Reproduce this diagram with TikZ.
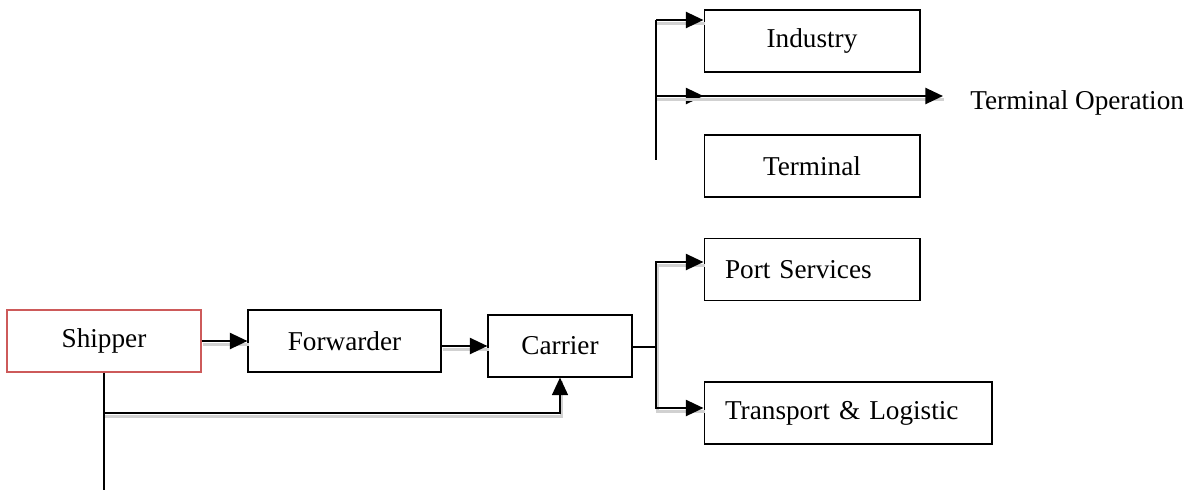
\documentclass[tikz,border=0pt]{standalone}
\usepackage{fontspec}
\setmainfont{Liberation Serif}
\usetikzlibrary{arrows.meta}
\definecolor{shipred}{RGB}{205,90,90}
\tikzset{
	box/.style={draw, line width=0.6pt, minimum height=1.24cm, inner sep=0pt, font=\fontsize{15.5}{18}\selectfont},
	leftbox/.style={box, align=left, inner xsep=0.42cm},
	conn/.style={line width=0.6pt},
	arr/.style={line width=1.5pt, -{Triangle[length=10pt,width=9pt]},
		preaction={draw=black!18, line width=1.6pt, -, transform canvas={shift={(0.8pt,-1.8pt)}}}}
}
\begin{document}
\begin{tikzpicture}[x=0.02cm, y=-0.02cm]
		\useasboundingbox (0,0) rectangle (1195,490);
		\node[box, draw=shipred, minimum width=3.88cm] (s) at (104, 341)		{Shipper};
		\node[box, minimum width=3.86cm] (f) at (344.5, 341)		{Forwarder};
		\node[box, minimum width=2.88cm] (c) at (560, 346)		{Carrier};
		\node[box, minimum width=4.32cm] (ind) at (812, 41)		{Industry};
		\node[box, minimum width=4.32cm] (ter) at (812, 166)		{Terminal};
		\node[leftbox, text width=3.48cm] (ps) at (812, 269.5)		{Port Services};
		\node[leftbox, text width=4.92cm] (tl) at (848, 413)		{Transport \& Logistic};
		\node[anchor=west, inner sep=0pt, font=\fontsize{15.5}{18}\selectfont] (op) at (970, 103)		{Terminal Operation};
		
		\coordinate (send) at (104, 490);
		\coordinate (sb) at (104, 413);
		\coordinate (cj) at (656, 347);
		\coordinate (tt) at (656, 20);
		\coordinate (tm) at (656, 96);
		\coordinate (tb) at (656, 160);
		\coordinate (opend) at (943, 96);
		
		\draw[arr] (s.east) -- (f.west);
		\draw[arr] (f.east |- c.west) -- (c.west);
		\draw[conn] (s.south) -- (send);
		\draw[arr, line width=1.2pt] (sb) -| (c.south);
		\draw[conn] (c.east |- cj) -- (cj);
		\draw[arr] (cj) |- ([yshift=0.15cm]ps.west);
		\draw[arr] (cj) |- ([yshift=0.1cm]tl.west);
		\draw[conn] (tt) -- (tb);
		\draw[arr] (tt) -- (tt -| ind.west);
		\draw[arr] (tm) -- (tm -| ind.west);
		\draw[arr] (tm) -- (opend);
	\end{tikzpicture}
\end{document}
